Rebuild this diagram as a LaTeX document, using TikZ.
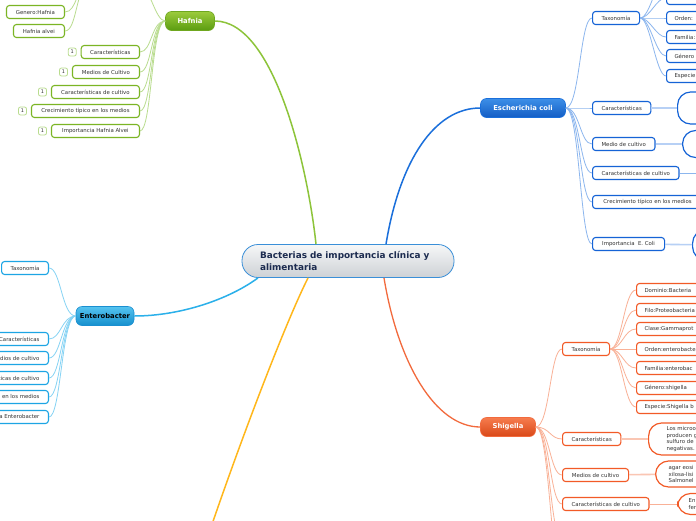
\documentclass[tikz,border=0pt]{standalone}
\usepackage{fontspec}
\setmainfont{DejaVu Sans}
\usetikzlibrary{positioning}

\definecolor{rootdraw}{HTML}{3A8FD8}
\definecolor{roottop}{HTML}{F6F7F8}
\definecolor{rootbot}{HTML}{CDD1D5}
\definecolor{roottext}{HTML}{1C2B4F}
\definecolor{leaftext}{HTML}{333333}
\definecolor{hfline}{HTML}{8DC43A}
\definecolor{hftop}{HTML}{9CCB3C}
\definecolor{hfbot}{HTML}{5A9C10}
\definecolor{hfdraw}{HTML}{6FA71F}
\definecolor{hfleaf}{HTML}{7BB524}
\definecolor{hflink}{HTML}{B9DC8E}
\definecolor{ecline}{HTML}{1A6FDB}
\definecolor{ectop}{HTML}{3D8FE8}
\definecolor{ecbot}{HTML}{135DC4}
\definecolor{ecleaf}{HTML}{1563D6}
\definecolor{eclink}{HTML}{8CB6EE}
\definecolor{ecthick}{HTML}{B7D0F5}
\definecolor{shline}{HTML}{F26A3D}
\definecolor{shtop}{HTML}{F67C4E}
\definecolor{shbot}{HTML}{D94818}
\definecolor{shleaf}{HTML}{F25A27}
\definecolor{shlink}{HTML}{F9B197}
\definecolor{shthick}{HTML}{FAC6B3}
\definecolor{cyline}{HTML}{2BB0EA}
\definecolor{cytop}{HTML}{55C3F0}
\definecolor{cybot}{HTML}{1690CD}
\definecolor{cydraw}{HTML}{1B8FD0}
\definecolor{cyleaf}{HTML}{1DA5E4}
\definecolor{cylink}{HTML}{86D3F4}
\definecolor{yeline}{HTML}{FFB71B}

\tikzset{
  rootbox/.style={draw=rootdraw, line width=0.8pt, rounded corners=16pt, top color=roottop, bottom color=rootbot,
    minimum height=33pt, text width=176pt, inner xsep=18pt, align=left, text=roottext,
    font=\fontsize{8.9}{11.5}\selectfont\bfseries},
  branch/.style={line width=0.6pt, rounded corners=6pt, minimum height=19pt, inner sep=0pt, text=white,
    font=\fontsize{6.8}{8}\selectfont\bfseries},
  leaf/.style={draw, fill=white, line width=1.1pt, rounded corners=3pt, minimum height=13pt, inner xsep=9pt,
    inner ysep=0pt, text=leaftext, font=\fontsize{5.4}{6.5}\selectfont},
  hleaf/.style={leaf, draw=hfleaf, anchor=east},
  eleaf/.style={leaf, draw=ecleaf, anchor=west},
  sleaf/.style={leaf, draw=shleaf, anchor=west},
  cleaf/.style={leaf, draw=cyleaf, anchor=east},
  taxleaf/.style={text width=60pt, align=left, inner xsep=8pt},
  note/.style={draw, fill=white, line width=1.2pt, rounded corners=13pt, anchor=west, align=left,
    text=leaftext, font=\fontsize{5.4}{6.5}\selectfont},
  marker/.style={draw=hflink, fill=white, line width=0.8pt, rounded corners=2pt, minimum size=8pt,
    inner sep=0pt, text=leaftext, font=\fontsize{5}{6}\selectfont},
  glink/.style={hflink, line width=0.8pt},
  elink/.style={eclink, line width=0.8pt},
  slink/.style={shlink, line width=0.8pt},
  clink/.style={cylink, line width=0.8pt}
}

\begin{document}
\begin{tikzpicture}[x=1pt,y=-1pt]
\clip (0,0) rectangle (696,520);
\fill[white] (0,0) rectangle (696,520);

\node[rootbox] (root) at (348,261) {Bacterias de importancia clínica y\\alimentaria};

\node[branch, top color=hftop, bottom color=hfbot, draw=hfdraw, minimum width=49pt] (hafnia) at (190,21) {Hafnia};
\node[hleaf, minimum width=58pt] (hgen) at (65,12) {Genero:Hafnia};
\node[hleaf, minimum width=51pt] (halv) at (65,31) {Hafnia alvei};
\node[hleaf, minimum width=58pt] (hcar) at (140,52) {Características};
\node[hleaf, minimum width=67pt] (hmed) at (140,72) {Medios de Cultivo};
\node[hleaf, minimum width=88pt] (hcc) at (140,92) {Características de cultivo};
\node[hleaf, minimum width=108pt] (hcre) at (140,111) {Crecimiento típico en los medios};
\node[hleaf, minimum width=88pt] (himp) at (140,131) {Importancia Hafnia Alvei};
\foreach \n in {hcar,hmed,hcc,hcre,himp}
  \node[marker, left=4pt of \n] (m\n) {1};
\coordinate (htaxL) at (88,-14);
\coordinate (htaxR) at (140,-14);
\draw[glink] (hafnia.west) .. controls +(-10,0) and +(10,0) .. (htaxR);
\foreach \n in {hcar,hmed,hcc,hcre,himp}
  \draw[glink] (hafnia.west) .. controls +(-14,0) and +(12,0) .. (\n.east);
\foreach \n in {hgen,halv}
  \draw[glink] (htaxL) .. controls +(-12,0) and +(12,0) .. (\n.east);

\node[branch, top color=ectop, bottom color=ecbot, draw=ecline, minimum width=85pt] (ecoli) at (523,108) {Escherichia coli};
\node[eleaf, minimum width=47pt] (etax) at (592,18) {Taxonomía};
\node[eleaf, minimum width=58pt] (ecar) at (592,108) {Características};
\node[eleaf, minimum width=62pt] (emed) at (592,144) {Medio de cultivo};
\node[eleaf, minimum width=86pt] (ecc) at (592,173) {Características de cultivo};
\node[eleaf, minimum width=110pt] (ecre) at (592,202) {Crecimiento típico en los medios};
\node[eleaf, minimum width=72pt] (eimp) at (592,244) {Importancia~ E. Coli};
\node[eleaf, taxleaf] (et0) at (666,-2) {};
\node[eleaf, taxleaf] (et1) at (666,18) {Orden:};
\node[eleaf, taxleaf] (et2) at (666,37) {Familia:};
\node[eleaf, taxleaf] (et3) at (666,56) {Género};
\node[eleaf, taxleaf] (et4) at (666,76) {Especie};
\coordinate (et5) at (666,-22);
\node[note, draw=ecleaf, minimum height=32pt, minimum width=60pt] (ecar2) at (677,108) {};
\node[note, draw=ecleaf, minimum height=27pt, minimum width=60pt] (emed2) at (682,144) {};
\coordinate (ecc2) at (700,173);
\node[note, draw=ecleaf, minimum height=30pt, minimum width=60pt] (eimp2) at (692,245) {};
\foreach \n in {etax,ecar,emed,ecc,ecre,eimp}
  \draw[elink] (ecoli.east) .. controls +(14,0) and +(-12,0) .. (\n.west);
\foreach \n in {et0,et1,et2,et3,et4}
  \draw[elink] (etax.east) .. controls +(10,0) and +(-10,0) .. (\n.west);
\draw[elink] (etax.east) .. controls +(10,0) and +(-10,0) .. (et5);
\draw[ecthick, line width=1.6pt] (ecar) -- (ecar2);
\draw[ecthick, line width=1.6pt] (emed) -- (emed2);
\draw[elink] (ecc.east) -- (ecc2);
\draw[ecthick, line width=1.6pt] (eimp) -- (eimp2);

\node[branch, top color=shtop, bottom color=shbot, draw=shline, minimum width=55pt] (shig) at (508,427) {Shigella};
\node[sleaf, minimum width=47pt] (stax) at (562,349) {Taxonomía};
\node[sleaf, minimum width=58pt] (scar) at (562,439) {Características};
\node[sleaf, minimum width=66pt] (smed) at (562,475) {Medios de cultivo};
\node[sleaf, minimum width=86pt] (scc) at (562,504) {Características de cultivo};
\coordinate (scre) at (562,540);
\coordinate (simp) at (562,572);
\node[sleaf, taxleaf] (st1) at (636,290) {Dominio:Bacteria};
\node[sleaf, taxleaf] (st2) at (636,310) {Filo:Proteobacteria};
\node[sleaf, taxleaf] (st3) at (636,329) {Clase:Gammaprot};
\node[sleaf, taxleaf] (st4) at (636,349) {Orden:enterobacte};
\node[sleaf, taxleaf] (st5) at (636,368) {Familia:enterobac};
\node[sleaf, taxleaf] (st6) at (636,388) {Género:shigella};
\node[sleaf, taxleaf] (st7) at (636,407) {Especie:Shigella b};
\node[note, draw=shleaf, minimum height=32pt, text width=50pt, inner xsep=18pt] (scar2) at (648,439)
  {Los microo\\producen g\\sulfuro de\\negativas.};
\node[note, draw=shleaf, minimum height=26pt, text width=50pt, inner xsep=13pt] (smed2) at (655,474)
  {agar eosi\\xilosa-lisi\\Salmonel};
\node[note, draw=shleaf, minimum height=21pt, text width=40pt, inner xsep=11pt] (scc2) at (677,504)
  {En\\fer};
\foreach \n in {stax,scar,smed,scc}
  \draw[slink] (shig.east) .. controls +(14,0) and +(-12,0) .. (\n.west);
\foreach \n in {scre,simp}
  \draw[slink] (shig.east) .. controls +(14,0) and +(-12,0) .. (\n);
\foreach \n in {st1,st2,st3,st4,st5,st6,st7}
  \draw[slink] (stax.east) .. controls +(12,0) and +(-12,0) .. (\n.west);
\draw[shthick, line width=1.2pt] (scar) -- (scar2);
\draw[shthick, line width=1.6pt] (smed) -- (smed2);
\draw[slink] (scc) -- (scc2);

\node[branch, top color=cytop, bottom color=cybot, draw=cydraw, text=black, minimum width=58pt] (entero) at (105,316) {Enterobacter};
\node[cleaf, minimum width=46pt] (ctax) at (49,268) {Taxonomía};
\node[cleaf] (ccar) at (49,339) {Características};
\node[cleaf] (cmed) at (49,358) {Medios de cultivo};
\node[cleaf] (ccc) at (49,378) {Características de cultivo};
\node[cleaf] (ccre) at (49,397) {Crecimiento típico en los medios};
\node[cleaf] (cimp) at (49,417) {Importancia Enterobacter};
\foreach \n in {ctax,ccar,cmed,ccc,ccre,cimp}
  \draw[clink] (entero.west) .. controls +(-14,0) and +(12,0) .. (\n.east);

\coordinate (yel) at (204,548);
\draw[hfline, line width=1.5pt] (hafnia.east) .. controls +(60,0) and +(-8,-75) .. ([xshift=-32pt]root.north);
\draw[ecline, line width=1.5pt] ([xshift=38pt]root.north) .. controls +(14,-85) and +(-45,0) .. (ecoli.west);
\draw[shline, line width=1.3pt] ([xshift=36pt]root.south) .. controls +(14,85) and +(-45,0) .. (shig.west);
\draw[cyline, line width=1.5pt] ([xshift=-90pt]root.south) .. controls +(-30,22) and +(45,0) .. (entero.east);
\draw[yeline, line width=1.5pt] ([xshift=-40pt]root.south) .. controls +(-25,50) and +(30,-90) .. (yel);
\end{tikzpicture}
\end{document}
